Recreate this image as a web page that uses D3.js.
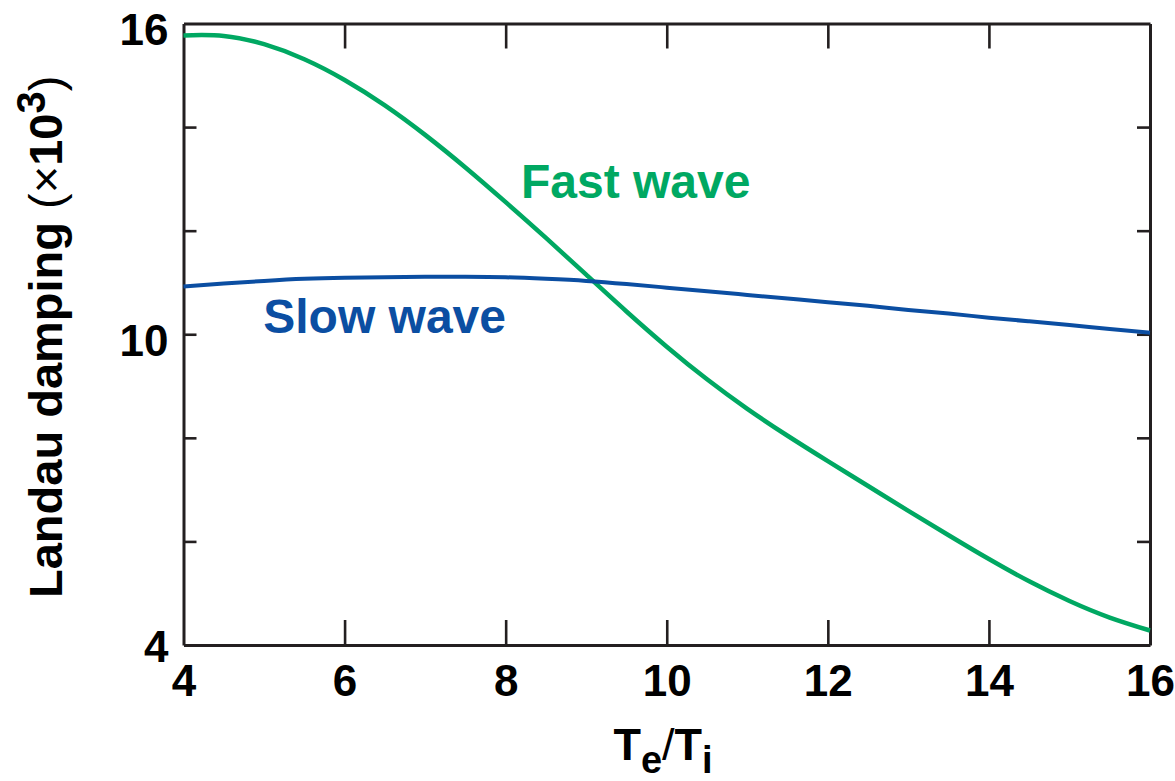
<!DOCTYPE html>
<html>
<head>
<meta charset="utf-8">
<script src="https://cdn.jsdelivr.net/npm/d3@7"></script>
<style>
  html, body { margin: 0; padding: 0; background: #ffffff; }
  svg { display: block; }
  text { font-family: "Liberation Sans", Arial, Helvetica, sans-serif; }
</style>
</head>
<body>
<svg id="chart" width="1175" height="781"></svg>
<script>
// ---- Data ----
const teTi = [4, 4.5, 5, 5.5, 6, 6.5, 7, 7.5, 8, 8.5, 9, 9.5, 10, 10.5, 11, 11.5, 12, 12.5, 13, 13.5, 14, 14.5, 15, 15.5, 16];
const fastWave = [15.77, 15.76, 15.60, 15.31, 14.91, 14.42, 13.85, 13.22, 12.55, 11.86, 11.15, 10.44, 9.76, 9.13, 8.56, 8.04, 7.55, 7.07, 6.59, 6.12, 5.66, 5.23, 4.85, 4.53, 4.28];
const slowWave = [10.92, 10.98, 11.03, 11.07, 11.09, 11.10, 11.11, 11.11, 11.10, 11.07, 11.03, 10.97, 10.90, 10.83, 10.76, 10.69, 10.62, 10.55, 10.47, 10.40, 10.32, 10.25, 10.18, 10.10, 10.03];
const xTicks = [4, 6, 8, 10, 12, 14, 16];
const yTicks = [4, 6, 8, 10, 12, 14, 16];
const yTickLabels = [4, 10, 16];
const seriesNames = ["Fast wave", "Slow wave"];
const labelPos = [[8.19, 12.63], [4.99, 10.03]];

// ---- Setup ----
const svg = d3.select("#chart");
const mLeft = 183.5, mRight = 1150, mTop = 23.5, mBottom = 645;
const x = d3.scaleLinear().domain([4, 16]).range([mLeft, mRight]);
const y = d3.scaleLinear().domain([4, 16]).range([mBottom, mTop]);

const green = "#00a862";
const blue = "#0b4ea2";
const axisColor = "#231f20";

// ---- Axes ----
function styleAxis(g) {
  g.select(".domain").attr("stroke", axisColor).attr("stroke-width", 3);
  g.selectAll(".tick line").attr("stroke", axisColor).attr("stroke-width", 2.6);
  g.selectAll(".tick text")
    .attr("fill", "#000")
    .attr("font-size", 44)
    .attr("font-weight", "bold")
    .attr("font-family", "'Liberation Sans', Arial, Helvetica, sans-serif");
}

const xAxis = svg.append("g")
  .attr("transform", `translate(0,${mBottom})`)
  .call(d3.axisBottom(x).tickValues(xTicks).tickSizeInner(-25).tickSizeOuter(0).tickPadding(20).tickFormat(d3.format("d")));
styleAxis(xAxis);
xAxis.selectAll(".tick line").filter(d => d === 4 || d === 16).remove();

const xAxisTop = svg.append("g")
  .attr("transform", `translate(0,${mTop})`)
  .call(d3.axisTop(x).tickValues(xTicks).tickSizeInner(-25).tickSizeOuter(0).tickFormat(""));
styleAxis(xAxisTop);
xAxisTop.selectAll(".tick line").filter(d => d === 4 || d === 16).remove();

const yAxis = svg.append("g")
  .attr("transform", `translate(${mLeft},0)`)
  .call(d3.axisLeft(y).tickValues(yTicks).tickSizeInner(-13).tickSizeOuter(0).tickPadding(15)
    .tickFormat(d => yTickLabels.includes(d) ? d3.format("d")(d) : ""));
styleAxis(yAxis);
yAxis.selectAll(".tick text").attr("dy", d => d === 4 ? "0.38em" : "0.48em");
yAxis.selectAll(".tick line").filter(d => d === 4 || d === 16).remove();

const yAxisRight = svg.append("g")
  .attr("transform", `translate(${mRight},0)`)
  .call(d3.axisRight(y).tickValues(yTicks).tickSizeInner(-13).tickSizeOuter(0).tickFormat(""));
styleAxis(yAxisRight);
yAxisRight.selectAll(".tick line").filter(d => d === 4 || d === 16).remove();

// ---- Lines ----
const line = d3.line().curve(d3.curveNatural);
const fastPts = teTi.map((t, i) => [x(t), y(fastWave[i])]);
const slowPts = teTi.map((t, i) => [x(t), y(slowWave[i])]);

svg.append("path").attr("d", line(fastPts))
  .attr("fill", "none").attr("stroke", green).attr("stroke-width", 4.5)
  .attr("stroke-linejoin", "round");
svg.append("path").attr("d", line(slowPts))
  .attr("fill", "none").attr("stroke", blue).attr("stroke-width", 4)
  .attr("stroke-linejoin", "round");

// ---- Series labels ----
const labelColors = [green, blue];
seriesNames.forEach((name, i) => {
  svg.append("text")
    .attr("x", x(labelPos[i][0]))
    .attr("y", y(labelPos[i][1]))
    .attr("fill", labelColors[i])
    .attr("font-size", 48)
    .attr("font-weight", "bold")
    .text(name);
});

// ---- X axis title: Te/Ti ----
const xt = svg.append("text")
  .attr("x", 663)
  .attr("y", 760)
  .attr("text-anchor", "middle")
  .attr("font-size", 45)
  .attr("font-weight", "bold")
  .attr("fill", "#000");
xt.append("tspan").text("T");
xt.append("tspan").attr("dy", 13).attr("font-size", 38).text("e");
xt.append("tspan").attr("dy", -13).attr("font-weight", "normal").text("/");
xt.append("tspan").text("T");
xt.append("tspan").attr("dy", 13).attr("font-size", 38).text("i");

// ---- Y axis title ----
const yt = svg.append("text")
  .attr("transform", "translate(62,598) rotate(-90)")
  .attr("x", 0).attr("y", 0)
  .attr("text-anchor", "start")
  .attr("font-size", 47)
  .attr("font-weight", "bold")
  .attr("fill", "#000");
yt.append("tspan").text("Landau damping ");
yt.append("tspan").attr("font-weight", "normal").text("(\u00d7");
yt.append("tspan").text("10");
yt.append("tspan").attr("dy", -17).attr("font-size", 40).text("3");
yt.append("tspan").attr("dy", 17).attr("font-weight", "normal").text(")");
</script>
</body>
</html>
